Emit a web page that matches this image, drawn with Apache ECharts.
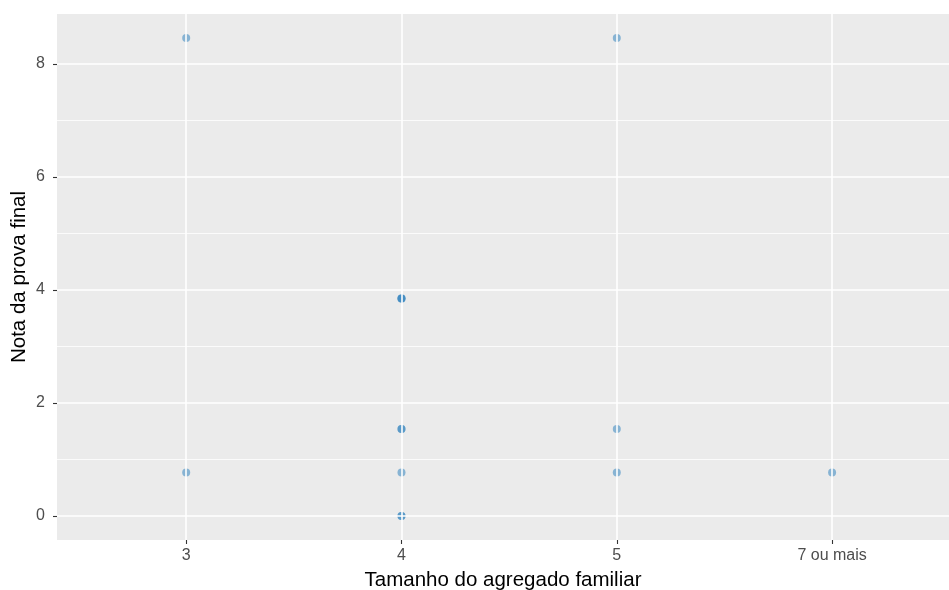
<!DOCTYPE html>
<html>
<head>
<meta charset="utf-8">
<script src="https://cdn.jsdelivr.net/npm/echarts@6/dist/echarts.min.js"></script>
<style>html,body{margin:0;padding:0;background:#fff}#c{width:949px;height:590px}</style>
</head>
<body>
<div id="c"></div>
<script>
// Data
const categories = ['3', '4', '5', '7 ou mais'];
const pointCategory = ['3', '3', '4', '4', '4', '4', '4', '4', '4', '4', '5', '5', '5', '7 ou mais'];
const pointValue    = [8.46, 0.77, 3.85, 3.85, 3.85, 1.54, 1.54, 0.77, 0, 0, 8.46, 1.54, 0.77, 0.77];
const yMajorTicks = [0, 2, 4, 6, 8];
const yMinorTicks = [1, 3, 5, 7];
const xTickPositions = [1, 2, 3, 4];

const points = pointCategory.map((c, i) => [categories.indexOf(c) + 1, pointValue[i]]);

const font = 'Liberation Sans, Arial, sans-serif';
const chart = echarts.init(document.getElementById('c'), null, {renderer: 'canvas'});
chart.setOption({
  animation: false,
  backgroundColor: '#ffffff',
  grid: {
    left: 57, right: 0, top: 14, bottom: 50,
    outerBoundsMode: 'none',
    show: true, backgroundColor: '#EBEBEB', borderWidth: 0, containLabel: false
  },
  xAxis: {
    type: 'value', min: 0.4, max: 4.543,
    name: 'Tamanho do agregado familiar', nameLocation: 'middle', nameGap: 30, nameMoveOverlap: false,
    nameTextStyle: {color: '#000', fontSize: 20.5, fontFamily: font},
    axisLine: {show: false, onZero: false},
    axisTick: {show: true, customValues: xTickPositions, length: 4, lineStyle: {color: '#333', width: 1.1}},
    axisLabel: {customValues: xTickPositions, color: '#4D4D4D', fontSize: 16, fontFamily: font, margin: 8,
      formatter: v => categories[Math.round(v) - 1] || ''},
    splitLine: {show: false}
  },
  yAxis: {
    type: 'value', min: -0.423, max: 8.883,
    name: 'Nota da prova final', nameLocation: 'middle', nameGap: 27, nameMoveOverlap: false,
    nameTextStyle: {color: '#000', fontSize: 20.5, fontFamily: font},
    axisLine: {show: false, onZero: false},
    axisTick: {show: true, customValues: yMajorTicks, length: 4, lineStyle: {color: '#333', width: 1.1}},
    axisLabel: {customValues: yMajorTicks, color: '#4D4D4D', fontSize: 16, fontFamily: font, margin: 12},
    splitLine: {show: false}
  },
  series: [
    {
      type: 'scatter', data: [], z: 1, silent: true,
      markLine: {
        silent: true, symbol: ['none', 'none'], label: {show: false}, animation: false,
        data: [
          ...yMinorTicks.map(v => ({yAxis: v, lineStyle: {color: '#FFFFFF', width: 0.8, type: 'solid'}})),
          ...yMajorTicks.map(v => ({yAxis: v, lineStyle: {color: '#FFFFFF', width: 1.6, type: 'solid'}})),
          ...xTickPositions.map(v => ({xAxis: v, lineStyle: {color: '#FFFFFF', width: 1.6, type: 'solid'}}))
        ]
      }
    },
    {
      type: 'scatter', z: 3, symbol: 'circle', symbolSize: 8,
      itemStyle: {color: '#3585C0', opacity: 0.55},
      data: points
    }
  ]
});
</script>
</body>
</html>
